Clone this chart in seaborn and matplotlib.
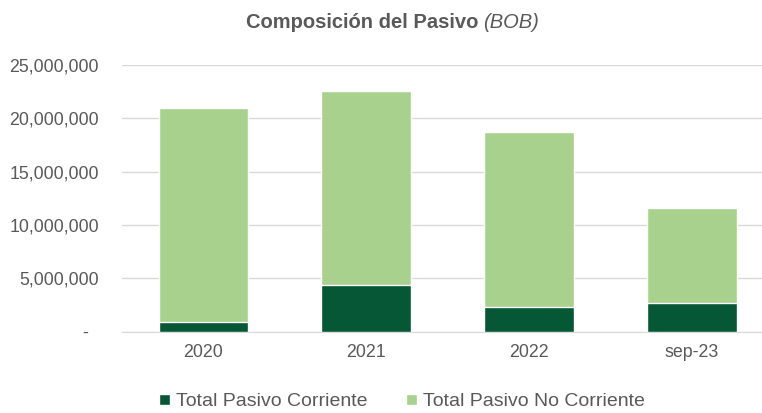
import matplotlib
matplotlib.use('Agg')
import matplotlib.pyplot as plt
from matplotlib.patches import Patch
from matplotlib.ticker import FuncFormatter
import pandas as pd
import seaborn as sns

# Datos (BOB)
periodos = ['2020', '2021', '2022', 'sep-23']
pasivo_corriente = [940000, 4350000, 2320000, 2660000]
pasivo_no_corriente = [19980000, 18160000, 16380000, 8970000]

verde_oscuro = '#065735'
verde_claro = '#A9D18E'
gris = '#595959'

df = pd.DataFrame({'periodo': periodos,
                   'corriente': pasivo_corriente,
                   'no_corriente': pasivo_no_corriente})
df['total'] = df['corriente'] + df['no_corriente']

sns.set_style('white')
plt.rcParams['font.family'] = ['Liberation Sans', 'DejaVu Sans']

fig = plt.figure(figsize=(7.62, 4.13), dpi=100)
ax = fig.add_axes([0.160, 0.197, 0.84, 0.646])

# Barras apiladas: primero el total (claro), encima el corriente (oscuro)
sns.barplot(data=df, x='periodo', y='total', color=verde_claro, width=0.55,
            saturation=1, ax=ax, zorder=2)
sns.barplot(data=df, x='periodo', y='corriente', color=verde_oscuro, width=0.55,
            saturation=1, ax=ax, zorder=3)

ax.set_ylim(0, 25000000)
ax.set_xlim(-0.5, 3.43)
ax.set_yticks(range(0, 25000001, 5000000))
# formato contable: el cero se muestra como guion
ax.yaxis.set_major_formatter(FuncFormatter(lambda v, p: '-  ' if v == 0 else f'{v:,.0f}'))
ax.grid(axis='y', color='#D9D9D9', linewidth=1, zorder=0)
ax.set_axisbelow(True)
for s in ['top', 'right', 'left']:
    ax.spines[s].set_visible(False)
ax.spines['bottom'].set_color('#D9D9D9')
ax.tick_params(axis='both', length=0, labelsize=12.8, labelcolor=gris)
ax.tick_params(axis='y', pad=16.5)
ax.tick_params(axis='x', pad=9)
ax.set_xlabel('')
ax.set_ylabel('')

# Título con parte en cursiva
fig.text(478 / 762, 1 - 22 / 413, 'Composición del Pasivo', ha='right', va='center',
         fontsize=14.5, fontweight='bold', color=gris)
fig.text(483 / 762, 1 - 22 / 413, '(BOB)', ha='left', va='center',
         fontsize=14.5, fontstyle='italic', color=gris)

handles = [Patch(facecolor=verde_oscuro, label='Total Pasivo Corriente'),
           Patch(facecolor=verde_claro, label='Total Pasivo No Corriente')]
fig.legend(handles=handles, loc='center', bbox_to_anchor=(402 / 762, 1 - 402 / 413),
           ncol=2, frameon=False, fontsize=14, labelcolor=gris,
           handlelength=0.55, handleheight=0.55, handletextpad=0.3, columnspacing=2.0)

fig.savefig('out.png', dpi=100)
